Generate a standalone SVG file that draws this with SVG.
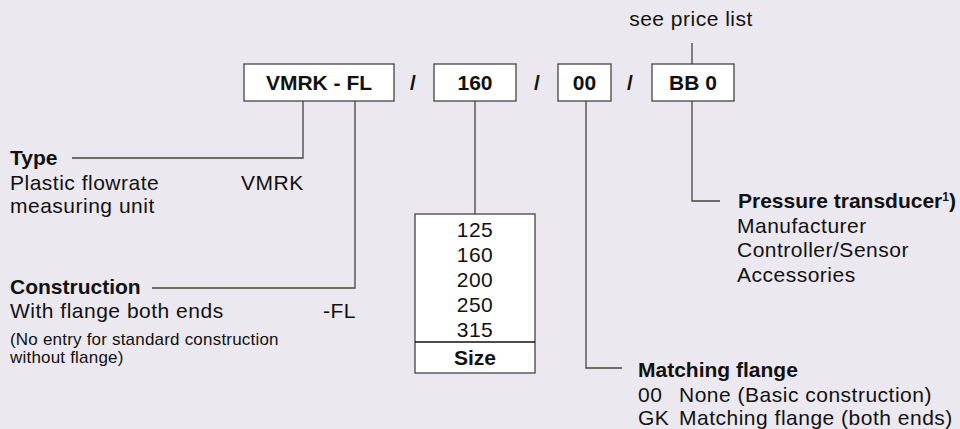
<svg xmlns="http://www.w3.org/2000/svg" width="960" height="429" viewBox="0 0 960 429">
<style>
text{font-family:"Liberation Sans",Arial,sans-serif;font-size:21px;letter-spacing:0.5px;fill:#111}
.b{font-weight:bold;letter-spacing:0}
.s{font-size:17px;letter-spacing:0.2px}
.m{text-anchor:middle}
.box{fill:#fff;stroke:#444;stroke-width:1.3}
.ln{fill:none;stroke:#444;stroke-width:1.3}
</style>
<rect width="960" height="429" fill="#ECE8EF"/>
<g id="connectors">
<path class="ln" d="M692 43V64"/>
<path class="ln" d="M303 101V158H72"/>
<path class="ln" d="M355 101V288H152"/>
<path class="ln" d="M475 101V214"/>
<path class="ln" d="M586 101V368H622"/>
<path class="ln" d="M692 101V201H720"/>
</g>
<g id="price">
<text class="m" x="691" y="26">see price list</text>
</g>
<g id="box-type">
<rect class="box" x="244" y="64" width="150" height="37"/>
<text class="b m" x="319" y="90">VMRK - FL</text>
</g>
<text class="b m" x="413" y="90">/</text>
<g id="box-size">
<rect class="box" x="434" y="64" width="82" height="37"/>
<text class="b m" x="475" y="90">160</text>
</g>
<text class="b m" x="537" y="90">/</text>
<g id="box-flange">
<rect class="box" x="558" y="64" width="53" height="37"/>
<text class="b m" x="584.5" y="90">00</text>
</g>
<text class="b m" x="630" y="90">/</text>
<g id="box-pressure">
<rect class="box" x="652" y="64" width="82" height="37"/>
<text class="b m" x="693" y="90">BB 0</text>
</g>
<g id="type">
<text class="b" x="10" y="165">Type</text>
<text x="10" y="190">Plastic flowrate</text>
<text x="10" y="213">measuring unit</text>
<text x="241" y="190">VMRK</text>
</g>
<g id="construction">
<text class="b" x="10" y="294">Construction</text>
<text x="10" y="318">With flange both ends</text>
<text x="323" y="318">-FL</text>
<text class="s" x="10" y="345">(No entry for standard construction</text>
<text class="s" x="10" y="363">without flange)</text>
</g>
<g id="size-table">
<rect class="box" x="415" y="214" width="120" height="159"/>
<path class="ln" d="M415 342H535" style="stroke:#111;stroke-width:1.6"/>
<text class="m" x="475" y="237">125</text>
<text class="m" x="475" y="262">160</text>
<text class="m" x="475" y="287">200</text>
<text class="m" x="475" y="312">250</text>
<text class="m" x="475" y="337">315</text>
<text class="b m" x="475" y="365">Size</text>
</g>
<g id="pressure">
<text class="b" x="738" y="208">Pressure transducer<tspan font-size="12" dy="-7">1</tspan><tspan dy="7">)</tspan></text>
<text x="737" y="233">Manufacturer</text>
<text x="737" y="257">Controller/Sensor</text>
<text x="737" y="282">Accessories</text>
</g>
<g id="matching">
<text class="b" x="638" y="377">Matching flange</text>
<text x="638" y="402">00</text>
<text x="679" y="402">None (Basic construction)</text>
<text x="638" y="425">GK</text>
<text x="679" y="425">Matching flange (both ends)</text>
</g>
</svg>
